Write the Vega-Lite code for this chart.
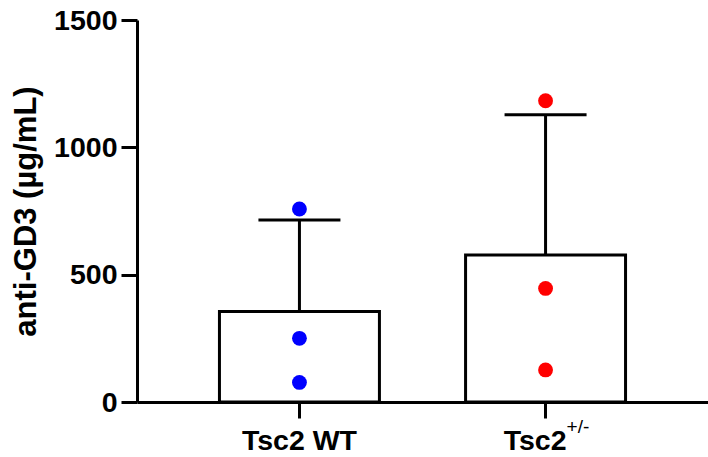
{
  "$schema": "https://vega.github.io/schema/vega-lite/v6.json",
  "width": 571,
  "height": 382,
  "autosize": {"type": "none"},
  "padding": {"left": 137, "top": 20, "right": 0, "bottom": 55},
  "background": "white",
  "config": {
    "view": {"stroke": null},
    "font": "Liberation Sans",
    "axis": {"grid": false, "domainColor": "black", "tickColor": "black", "labelColor": "black", "titleColor": "black"}
  },
  "datasets": {
    "summary": [
      {"group": "Tsc2 WT", "mean": 355, "upper": 715},
      {"group": "Tsc2+/-", "mean": 577, "upper": 1128}
    ],
    "points": [
      {"group": "Tsc2 WT", "value": 758},
      {"group": "Tsc2 WT", "value": 250},
      {"group": "Tsc2 WT", "value": 77},
      {"group": "Tsc2+/-", "value": 1183},
      {"group": "Tsc2+/-", "value": 446},
      {"group": "Tsc2+/-", "value": 126}
    ]
  },
  "encoding": {
    "x": {
      "field": "group", "type": "nominal", "sort": ["Tsc2 WT", "Tsc2+/-"],
      "scale": {"paddingInner": 0.35, "paddingOuter": 0.335},
      "axis": {"title": null, "labels": false, "domainWidth": 3, "tickWidth": 3, "tickSize": 16}
    }
  },
  "layer": [
    {
      "data": {"name": "summary"},
      "mark": {"type": "bar", "fill": "white", "stroke": "black", "strokeWidth": 3},
      "encoding": {
        "y": {
          "field": "mean", "type": "quantitative",
          "scale": {"domain": [0, 1500], "nice": false},
          "axis": {
            "values": [0, 500, 1000, 1500],
            "format": "d",
            "title": "anti-GD3 (µg/mL)",
            "titleFont": "Liberation Sans", "titleFontSize": 31, "titleFontWeight": "bold", "titlePadding": 11,
            "labelFont": "Liberation Sans", "labelFontSize": 28.5, "labelFontWeight": "bold", "labelPadding": 4,
            "domainWidth": 3, "tickWidth": 3, "tickSize": 16
          }
        }
      }
    },
    {
      "data": {"name": "summary"},
      "mark": {"type": "rule", "color": "black", "strokeWidth": 3},
      "encoding": {
        "y": {"field": "mean", "type": "quantitative"},
        "y2": {"field": "upper"}
      }
    },
    {
      "data": {"name": "summary"},
      "mark": {"type": "tick", "color": "black", "size": 82, "thickness": 3, "opacity": 1},
      "encoding": {
        "y": {"field": "upper", "type": "quantitative"}
      }
    },
    {
      "data": {"name": "points"},
      "mark": {"type": "circle", "size": 220, "opacity": 1},
      "encoding": {
        "y": {"field": "value", "type": "quantitative"},
        "color": {
          "field": "group", "type": "nominal",
          "scale": {"domain": ["Tsc2 WT", "Tsc2+/-"], "range": ["#0000FF", "#FF0000"]},
          "legend": null
        }
      }
    },
    {
      "data": {"name": "summary"},
      "transform": [{"filter": "datum.group == 'Tsc2 WT'"}],
      "mark": {"type": "text", "font": "Liberation Sans", "fontSize": 28.5, "fontWeight": "bold", "align": "center", "baseline": "alphabetic", "dy": 48, "color": "black"},
      "encoding": {
        "y": {"datum": 0, "type": "quantitative"},
        "text": {"value": "Tsc2 WT"}
      }
    },
    {
      "data": {"name": "summary"},
      "transform": [{"filter": "datum.group == 'Tsc2+/-'"}],
      "mark": {"type": "text", "font": "Liberation Sans", "fontSize": 28.5, "fontWeight": "bold", "align": "right", "baseline": "alphabetic", "dx": 21, "dy": 48, "color": "black"},
      "encoding": {
        "y": {"datum": 0, "type": "quantitative"},
        "text": {"value": "Tsc2"}
      }
    },
    {
      "data": {"name": "summary"},
      "transform": [{"filter": "datum.group == 'Tsc2+/-'"}],
      "mark": {"type": "text", "font": "Liberation Sans", "fontSize": 19, "fontWeight": "normal", "align": "left", "baseline": "alphabetic", "dx": 21, "dy": 31, "color": "black"},
      "encoding": {
        "y": {"datum": 0, "type": "quantitative"},
        "text": {"value": "+/-"}
      }
    }
  ]
}
